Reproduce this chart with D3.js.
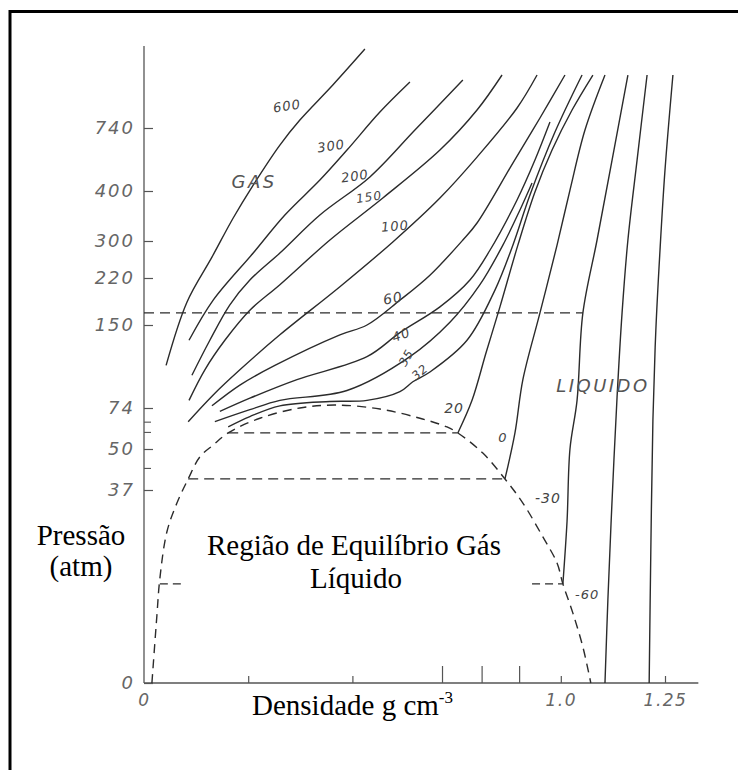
<!DOCTYPE html>
<html><head><meta charset="utf-8">
<script src="https://cdn.jsdelivr.net/npm/d3@7"></script>
<style>body{margin:0;background:#fff}svg{display:block}</style>
</head><body><svg id="c" width="738" height="770"></svg>
<script>
// ---- data (density g/cm3, pressure atm) ----
const yTickValues=[0,37,50,74,150,220,300,400,740];
const yMinorTicks=[44,60,66];
const xLabelValues=[0,1.0,1.25];
const xLabelText=["0","1.0","1.25"];
const xSmallTicks=[0.25,0.5,1.0,1.25];
const xLargeTicks=[0.715,0.81,0.9];

const iso600=[[0.053,113],[0.103,184],[0.163,265],[0.214,346],[0.262,432],[0.326,648],[0.374,783],[0.453,972],[0.530,1166]];
const iso300=[[0.108,136],[0.166,187],[0.262,274],[0.338,352],[0.422,459],[0.487,621],[0.566,826],[0.638,988]];
const iso200=[[0.115,104],[0.158,136],[0.206,180],[0.254,217],[0.326,274],[0.422,352],[0.542,476],[0.650,729],[0.765,999]];
const iso150=[[0.108,81],[0.146,109],[0.194,136],[0.254,172],[0.326,210],[0.446,302],[0.573,386],[0.710,621],[0.799,837],[0.859,1026]];
const iso100=[[0.106,66],[0.166,86],[0.230,109],[0.326,141],[0.470,207],[0.597,298],[0.710,386],[0.799,583],[0.895,848],[0.943,1026]];
const iso60=[[0.163,76],[0.230,95],[0.314,113],[0.470,141],[0.535,150],[0.614,187],[0.686,226],[0.765,302],[0.799,336],[0.885,551],[0.950,794],[1.010,1026]];
const iso40=[[0.182,72],[0.254,83],[0.367,100],[0.535,121],[0.614,143],[0.710,177],[0.782,217],[0.830,280],[0.895,382],[0.938,567],[0.974,772]];
const iso35=[[0.170,66],[0.254,73],[0.326,81],[0.487,90],[0.638,121],[0.734,154],[0.806,210],[0.861,291],[0.902,362],[0.931,443]];
const iso32=[[0.202,63],[0.254,69],[0.326,76],[0.446,80],[0.535,81],[0.614,89],[0.645,98],[0.686,107],[0.775,136],[0.842,202],[0.885,291],[0.926,392],[0.986,718],[1.051,1026]];
const iso20=[[0.753,59.4],[0.787,81],[0.821,125],[0.854,177],[0.897,291],[0.938,398],[0.979,621],[1.027,837],[1.077,1026]];
const iso0=[[0.866,40.5],[0.890,59.4],[0.909,100],[0.950,168],[0.991,291],[1.022,405],[1.058,729],[1.106,1026]];
const isoM30=[[1.005,19],[1.015,31],[1.022,50],[1.039,81],[1.053,168],[1.087,302],[1.123,567],[1.161,1026]];
const isoM60=[[1.106,0],[1.113,16],[1.123,35],[1.135,84],[1.147,168],[1.161,302],[1.183,567],[1.207,1026]];
const isoCold=[[1.212,0],[1.216,25.5],[1.221,67],[1.228,145],[1.238,280],[1.250,513],[1.269,1026]];

const dome=[[0.019,0],[0.031,13],[0.038,20],[0.055,29],[0.079,34.5],[0.106,40.5],[0.134,47.5],[0.166,52.3],[0.202,59.4],[0.278,68],[0.374,74],[0.458,76.7],[0.566,73.4],[0.662,68],[0.727,62.9],[0.753,59.4],[0.813,48.7],[0.866,40.5],[0.909,34.5],[0.957,28],[0.991,23],[1.005,19],[1.029,13.4],[1.053,6.9],[1.072,0]];

const tiePressure=[59.4,40.5];
const tieFrom=[0.202,0.106];
const tieTo=[0.753,0.866];
const stubPressure=[19,19];
const stubFrom=[0.038,0.931];
const stubTo=[0.091,1.005];
const refPressure=168;
const refFrom=0, refTo=1.053;
const yAxisTop=1183, xAxisEnd=1.33;

const isoLabels=["600","300","200","150","100","60","40","35","32","20","0","-30","-60"];
const isoLabelDensity=[0.343,0.449,0.506,0.540,0.602,0.597,0.617,0.629,0.662,0.744,0.861,0.969,1.063];
const isoLabelPressure=[859,643,481,388,330,190,141,120,107,74,57,35.5,16.9];
const regionLabels=["GAS","LIQUIDO"];
const regionLabelDensity=[0.264,1.101];
const regionLabelPressure=[449,94];

// ---- styles ----
const labelAngle=[-8,-8,-8,-8,-5,-10,-20,-60,-40,0,0,0,0];
const labelSize=[13,13,13,12,13,14,13,12,12,14,13,14,13];
const ink="#2b2b2b", pencil="#555";

const svg=d3.select("#c");
svg.append("rect").attr("x",10).attr("y",11.5).attr("width",800).attr("height",800)
  .attr("fill","none").attr("stroke","#000").attr("stroke-width",3);

const x=d3.scaleLinear().domain([0,1.25]).range([144,665]);
const y=d3.scaleLinear().domain(yTickValues).range([683,490,449,408,325,278,241,191,128]);

const g=svg.append("g");
const handFont="'DejaVu Sans', sans-serif";

// y axis
g.append("line").attr("x1",x(0)).attr("x2",x(0)).attr("y1",y(0)).attr("y2",y(yAxisTop))
  .attr("stroke",pencil).attr("stroke-width",1.3);
const ya=g.append("g").attr("transform",`translate(${x(0)},0)`)
  .call(d3.axisLeft(y).tickValues(yTickValues).tickSize(-9).tickPadding(9).tickFormat(d3.format("d")));
ya.select(".domain").remove();
ya.selectAll("line").attr("stroke",pencil).attr("stroke-width",1.2);
ya.selectAll("text").attr("font-family",handFont).attr("font-style","italic").attr("font-size",18)
  .attr("letter-spacing",2).attr("fill","#666");
const ym=g.append("g").attr("transform",`translate(${x(0)},0)`)
  .call(d3.axisLeft(y).tickValues(yMinorTicks).tickSize(-7).tickFormat(""));
ym.select(".domain").remove();
ym.selectAll("line").attr("stroke",pencil).attr("stroke-width",1.1);

// x axis
g.append("line").attr("x1",x(0)).attr("x2",x(xAxisEnd)).attr("y1",y(0)).attr("y2",y(0))
  .attr("stroke",pencil).attr("stroke-width",1.3);
[[xSmallTicks,-7],[xLargeTicks,-17]].forEach(([vals,len])=>{
  const a=g.append("g").attr("transform",`translate(0,${y(0)})`)
    .call(d3.axisBottom(x).tickValues(vals).tickSize(len).tickFormat(""));
  a.select(".domain").remove();
  a.selectAll("line").attr("stroke",pencil).attr("stroke-width",1.2);
});
const xl=g.append("g").attr("transform",`translate(0,${y(0)})`)
  .call(d3.axisBottom(x).tickValues(xLabelValues).tickSize(0).tickPadding(11).tickFormat((d,i)=>xLabelText[i]));
xl.select(".domain").remove();
xl.selectAll("text").attr("font-family",handFont).attr("font-style","italic").attr("font-size",17)
  .attr("letter-spacing",1.5).attr("fill","#666");

// lines
const line=d3.line().x(d=>x(d[0])).y(d=>y(d[1])).curve(d3.curveCatmullRom.alpha(0.5));
const isotherms=[iso600,iso300,iso200,iso150,iso100,iso60,iso40,iso35,iso32,iso20,iso0,isoM30,isoM60,isoCold];
g.selectAll("path.iso").data(isotherms).join("path").attr("class","iso")
  .attr("d",line).attr("fill","none").attr("stroke",ink).attr("stroke-width",1.4);
g.append("path").attr("d",line(dome)).attr("fill","none").attr("stroke",ink)
  .attr("stroke-width",1.4).attr("stroke-dasharray","9,6");

const hl=(p,a,b)=>g.append("line").attr("x1",x(a)).attr("x2",x(b)).attr("y1",y(p)).attr("y2",y(p))
  .attr("stroke",ink).attr("stroke-width",1.3).attr("stroke-dasharray","10,6");
tiePressure.forEach((p,i)=>hl(p,tieFrom[i],tieTo[i]));
stubPressure.forEach((p,i)=>hl(p,stubFrom[i],stubTo[i]).attr("stroke-dasharray","8,5"));
hl(refPressure,refFrom,refTo).attr("stroke-width",1.1);

// curve labels
isoLabels.forEach((t,i)=>{
  const px=x(isoLabelDensity[i]), py=y(isoLabelPressure[i]);
  g.append("text").attr("x",px).attr("y",py).attr("dy","0.35em").attr("text-anchor","middle")
    .attr("transform",`rotate(${labelAngle[i]},${px},${py})`)
    .attr("font-family",handFont).attr("font-style","italic").attr("font-size",labelSize[i])
    .attr("letter-spacing",1).attr("fill","#444").text(t);
});
regionLabels.forEach((t,i)=>{
  g.append("text").attr("x",x(regionLabelDensity[i])).attr("y",y(regionLabelPressure[i])).attr("dy","0.35em")
    .attr("text-anchor","middle").attr("font-family",handFont).attr("font-style","italic")
    .attr("font-size",18).attr("letter-spacing",2.5).attr("fill","#555").text(t);
});

// serif annotations
const serif="'Liberation Serif','Times New Roman',serif";
const st=(txt,xx,yy,anchor)=>svg.append("text").attr("x",xx).attr("y",yy).attr("text-anchor",anchor)
  .attr("font-family",serif).attr("font-size",29).attr("fill","#000").text(txt);
st("Pressão",81,545,"middle");
st("(atm)",81,576,"middle");
st("Região de Equilíbrio Gás",354,555,"middle");
st("Líquido",356,588,"middle");
const dt=st("Densidade g cm",252,715,"start");
dt.append("tspan").attr("dy",-12).attr("font-size",17).text("-3");
</script></body></html>
